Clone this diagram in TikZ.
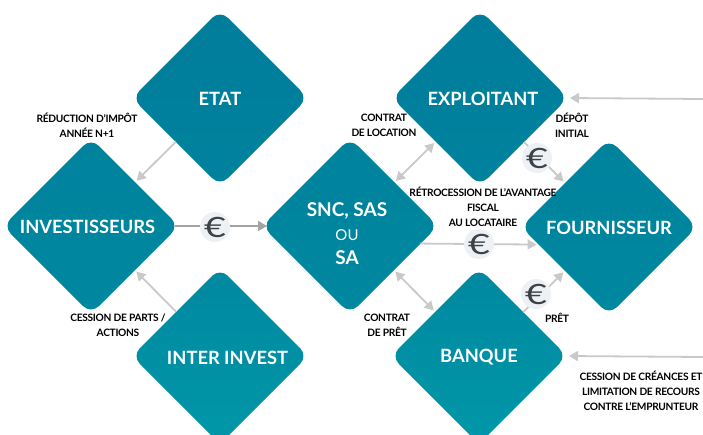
\documentclass[tikz,border=0pt]{standalone}
\usepackage{fontspec}
\usepackage{graphicx}
\setmainfont{Lato}
\usetikzlibrary{shapes.geometric,arrows.meta,shadings}
\definecolor{petrolA}{HTML}{007D9B}
\definecolor{petrolB}{HTML}{00829D}
\definecolor{petrolC}{HTML}{0088A0}
\definecolor{petrolD}{HTML}{0097A8}
\definecolor{flechegris}{HTML}{C9C9C9}
\definecolor{flechefonce}{HTML}{A3A3A3}
\definecolor{eurofond}{HTML}{EDF1F6}
\definecolor{eurotrait}{HTML}{3D4247}
\tikzset{
	losange/.style={diamond,aspect=1,minimum width=176pt,minimum height=176pt,inner sep=0pt,outer sep=0pt,rounded corners=11pt,text=white,align=center,font=\fontsize{18.3}{24}\bfseries\selectfont},
	haut/.style={losange,top color=petrolA,bottom color=petrolB},
	milieu/.style={losange,top color=petrolB,bottom color=petrolC},
	bas/.style={losange,top color=petrolC,bottom color=petrolD},
	fleche/.style={draw=flechegris,line width=1.8pt,-{Triangle[length=9pt,width=10pt]},shorten >=2pt},
	doublefleche/.style={fleche,{Triangle[length=9pt,width=10pt]}-{Triangle[length=9pt,width=10pt]},shorten <=2pt},
	legende/.style={align=center,inner sep=0pt,text=black,font=\fontsize{10.2}{15}\bfseries\selectfont\addfontfeatures{LetterSpace=-3}},
	eurosigne/.style={circle,fill=eurofond,text=eurotrait,minimum size=24pt,inner sep=0pt,font=\fontsize{28}{28}\fontseries{l}\selectfont}
}
\newcommand{\eurolarge}{\scalebox{1.35}[1]{€}}
\begin{document}
\begin{tikzpicture}[x=1pt,y=1pt]
	\useasboundingbox (0,0) rectangle (703,-434);
	\clip (0,0) rectangle (703,-434);
	\node[haut] (etat) at (220,-98){\raisebox{-7pt}[0pt][0pt]{ETAT}};
	\node[haut] (exploitant) at (480,-98){\hspace*{6pt}\raisebox{-7pt}[0pt][0pt]{EXPLOITANT}};
	\node[milieu] (investisseurs) at (91,-226){\hspace*{-7pt}\raisebox{-7pt}[0pt][0pt]{INVESTISSEURS}};
	\node[milieu] (snc) at (350,-226){\hspace*{-6pt}\raisebox{-14pt}[0pt][0pt]{\fontsize{19}{24}\selectfont\begin{tabular}{@{}c@{}}SNC, SAS\\{\fontsize{15}{24}\mdseries\selectfont OU}\\SA\end{tabular}}};
	\node[milieu] (fournisseur) at (609,-227){\raisebox{-7pt}[0pt][0pt]{FOURNISSEUR}};
	\node[bas] (interinvest) at (220,-356){\hspace*{15pt}\raisebox{-8pt}[0pt][0pt]{INTER INVEST}};
	\node[bas] (banque) at (479,-356){\raisebox{-6pt}[0pt][0pt]{BANQUE}};
	\coordinate (entreeA) at (703,-99);
	\coordinate (entreeB) at (703,-357);
	\node[legende] (L1) at (87,-125){RÉDUCTION D’IMPÔT\\ANNÉE N+1};
	\node[legende] (L2) at (384,-125){CONTRAT\\DE LOCATION};
	\node[legende] (L3) at (572,-125){DÉPÔT\\INITIAL};
	\node[legende] (L4) at (483,-207){RÉTROCESSION DE L’AVANTAGE\\FISCAL\\AU LOCATAIRE};
	\node[legende] (L5) at (118,-325){CESSION DE PARTS /\\ACTIONS};
	\node[legende] (L6) at (387,-325){CONTRAT\\DE PRÊT};
	\node[legende] (L7) at (557,-318){PRÊT};
	\node[legende] (L8) at (641,-391){CESSION DE CRÉANCES ET\\LIMITATION DE RECOURS\\CONTRE L’EMPRUNTEUR};
	\draw[fleche] (etat) -- (investisseurs);
	\draw[fleche] (interinvest) -- (investisseurs);
	\draw[doublefleche] (snc) -- (exploitant);
	\draw[doublefleche] (snc) -- (banque);
	\draw[fleche] (entreeA) -- (exploitant.east);
	\draw[fleche] (entreeB) -- (banque.east);
	\draw[fleche,draw=flechefonce,shorten <=-4pt,shorten >=-5pt] (investisseurs) -- (snc);
	\draw[fleche] (exploitant) -- (fournisseur);
	\draw[fleche] (banque) -- (fournisseur);
	\draw[fleche] (snc.-14) -- (fournisseur.194);
	\node[eurosigne] (E1) at (215,-227){\eurolarge};
	\node[eurosigne] (E2) at (537,-158){\eurolarge};
	\node[eurosigne] (E3) at (479,-244){\eurolarge};
	\node[eurosigne] (E4) at (536,-294){\eurolarge};
\end{tikzpicture}
\end{document}
